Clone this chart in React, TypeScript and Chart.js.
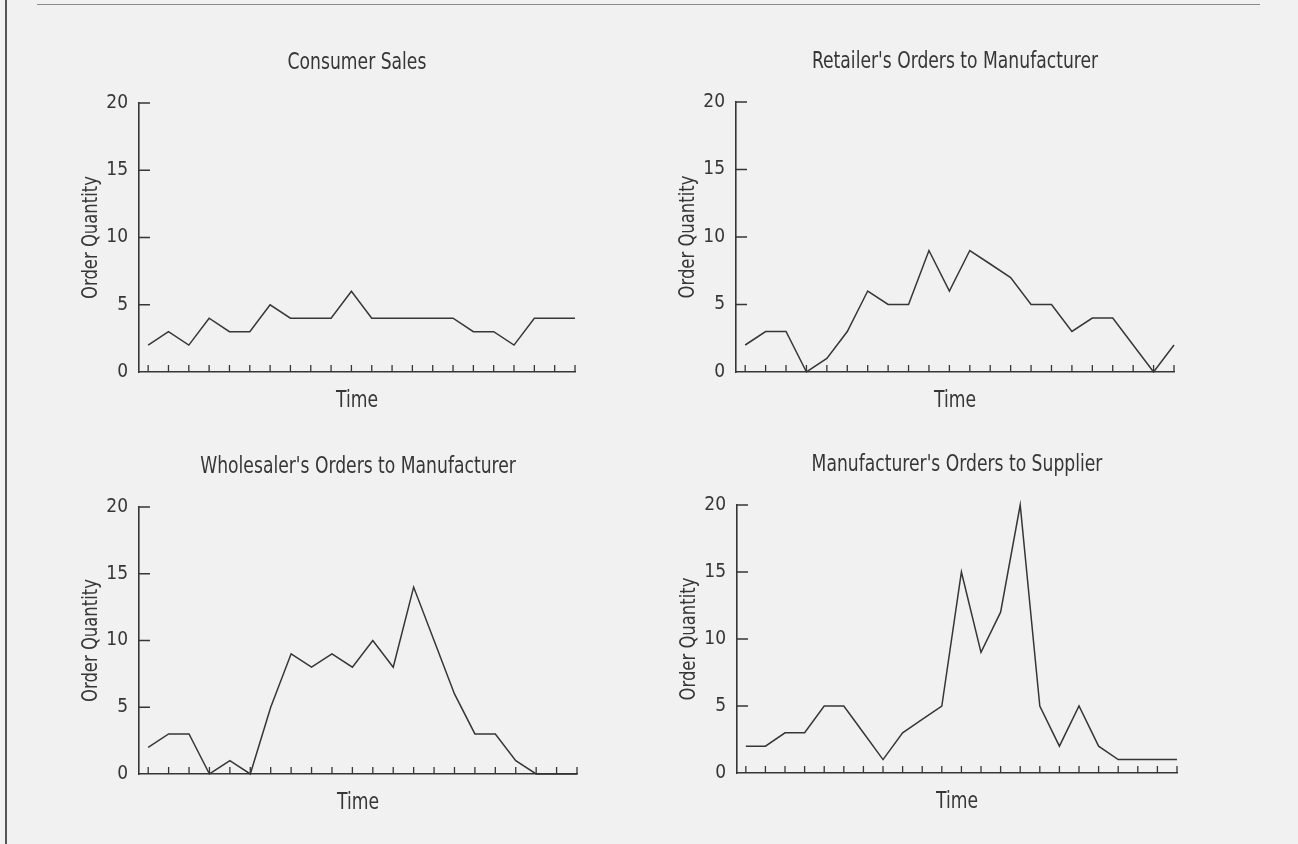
import React, { useEffect, useRef } from "react";
import { Chart, registerables } from "chart.js";

Chart.register(...registerables);

// ---- data ----
const consumerSales = [2, 3, 2, 4, 3, 3, 5, 4, 4, 4, 6, 4, 4, 4, 4, 4, 3, 3, 2, 4, 4, 4];
const retailerOrders = [2, 3, 3, 0, 1, 3, 6, 5, 5, 9, 6, 9, 8, 7, 5, 5, 3, 4, 4, 2, 0, 2];
const wholesalerOrders = [2, 3, 3, 0, 1, 0, 5, 9, 8, 9, 8, 10, 8, 14, 10, 6, 3, 3, 1, 0, 0, 0];
const manufacturerOrders = [2, 2, 3, 3, 5, 5, 3, 1, 3, 4, 5, 15, 9, 12, 20, 5, 2, 5, 2, 1, 1, 1, 1];

const panelTitles = [
  "Consumer Sales",
  "Retailer's Orders to Manufacturer",
  "Wholesaler's Orders to Manufacturer",
  "Manufacturer's Orders to Supplier",
];
const yTickValues = [0, 5, 10, 15, 20];
const xAxisTitle = "Time";
const yAxisTitle = "Order Quantity";

// ---- styles / layout ----
const FONT = "'DejaVu Sans Condensed', 'Liberation Sans Narrow', 'Liberation Sans', sans-serif";
const INK = "#363636";
const BG = "#f1f1f1";
const CONDENSE = 0.83;

const LEFT_W = 130;
const TOP_H = 75;
const BOTTOM_H = 55;
const RIGHT_W = 15;

type Frame = { l: number; r: number; t: number; b: number };
const frames: Frame[] = [
  { l: 139, r: 575, t: 103, b: 372 },
  { l: 736, r: 1174, t: 102, b: 372 },
  { l: 139, r: 577, t: 507, b: 774 },
  { l: 737, r: 1177, t: 505, b: 773 },
];

function drawCondensed(ctx: CanvasRenderingContext2D, text: string, x: number, y: number, size: number, rotate: boolean) {
  ctx.save();
  ctx.translate(x, y);
  if (rotate) ctx.rotate(-Math.PI / 2);
  ctx.scale(CONDENSE, 1);
  ctx.font = `${size}px ${FONT}`;
  ctx.textAlign = "center";
  ctx.textBaseline = "alphabetic";
  ctx.fillStyle = INK;
  ctx.fillText(text, 0, 0);
  ctx.restore();
}

const decorPlugin = {
  id: "decor",
  afterDraw(chart: any, _args: any, opts: any) {
    const { ctx, chartArea } = chart;
    const xs = chart.scales.x;
    const ys = chart.scales.y;
    ctx.save();
    ctx.strokeStyle = INK;
    ctx.lineWidth = 1.3;
    ctx.beginPath();
    for (let i = 0; i < opts.count; i++) {
      const px = xs.getPixelForValue(i);
      ctx.moveTo(px, chartArea.bottom);
      ctx.lineTo(px, chartArea.bottom - 7);
    }
    ys.ticks.forEach((t: any) => {
      if (t.value === ys.min) return;
      const py = ys.getPixelForValue(t.value);
      ctx.moveTo(chartArea.left, py);
      ctx.lineTo(chartArea.left + 11, py);
    });
    ctx.stroke();
    ctx.restore();

    const cx = (chartArea.left + chartArea.right) / 2;
    const cy = (chartArea.top + chartArea.bottom) / 2;
    drawCondensed(ctx, opts.title, cx, chartArea.top - 34, 23, false);
    drawCondensed(ctx, opts.xTitle, cx, chartArea.bottom + 35, 23, false);
    drawCondensed(ctx, opts.yTitle, chartArea.left - 42, cy, 22, true);
  },
};

function Panel({ values, title, frame }: { values: number[]; title: string; frame: Frame }) {
  const ref = useRef<HTMLCanvasElement>(null);
  const width = frame.r - frame.l + LEFT_W + RIGHT_W;
  const height = frame.b - frame.t + TOP_H + BOTTOM_H;

  useEffect(() => {
    const chart = new Chart(ref.current!, {
      type: "line",
      data: {
        datasets: [
          {
            data: values.map((v, i) => ({ x: i, y: v })),
            borderColor: INK,
            borderWidth: 1.5,
            pointRadius: 0,
            tension: 0,
            fill: false,
            clip: false as any,
          },
        ],
      },
      options: {
        animation: false,
        responsive: false,
        maintainAspectRatio: false,
        events: [],
        layout: { padding: { top: TOP_H, right: RIGHT_W, left: 0, bottom: 0 } },
        plugins: {
          legend: { display: false },
          tooltip: { enabled: false },
          title: { display: false },
          decor: { title, count: values.length, xTitle: xAxisTitle, yTitle: yAxisTitle },
        } as any,
        scales: {
          x: {
            type: "linear",
            min: -0.45,
            max: values.length - 1,
            ticks: { display: false },
            grid: { display: false, drawTicks: false },
            border: { display: true, color: INK, width: 1.6 },
            afterFit: (s: any) => {
              s.height = BOTTOM_H;
            },
          },
          y: {
            min: 0,
            max: 20,
            afterBuildTicks: (s: any) => {
              s.ticks = yTickValues.map((v) => ({ value: v }));
            },
            ticks: { color: INK, font: { family: FONT, size: 19 }, padding: 11 },
            grid: { display: false, drawTicks: false },
            border: { display: true, color: INK, width: 1.6 },
            afterFit: (s: any) => {
              s.width = LEFT_W;
            },
          },
        },
      } as any,
      plugins: [decorPlugin],
    });
    return () => chart.destroy();
  }, [values, title]);

  return (
    <canvas
      ref={ref}
      width={width}
      height={height}
      style={{
        position: "absolute",
        left: frame.l - LEFT_W,
        top: frame.t - TOP_H,
        width,
        height,
      }}
    />
  );
}

const series = [consumerSales, retailerOrders, wholesalerOrders, manufacturerOrders];

export default function App() {
  return (
    <div
      style={{
        position: "absolute",
        left: 0,
        top: 0,
        width: 1298,
        height: 844,
        background: BG,
        overflow: "hidden",
      }}
    >
      <div style={{ position: "absolute", left: 37, top: 4, width: 1223, height: 1, background: "#8a8a8a" }} />
      <div style={{ position: "absolute", left: 5, top: 0, width: 2, height: 844, background: "#555" }} />
      {series.map((vals, i) => (
        <Panel key={i} values={vals} title={panelTitles[i]} frame={frames[i]} />
      ))}
    </div>
  );
}
